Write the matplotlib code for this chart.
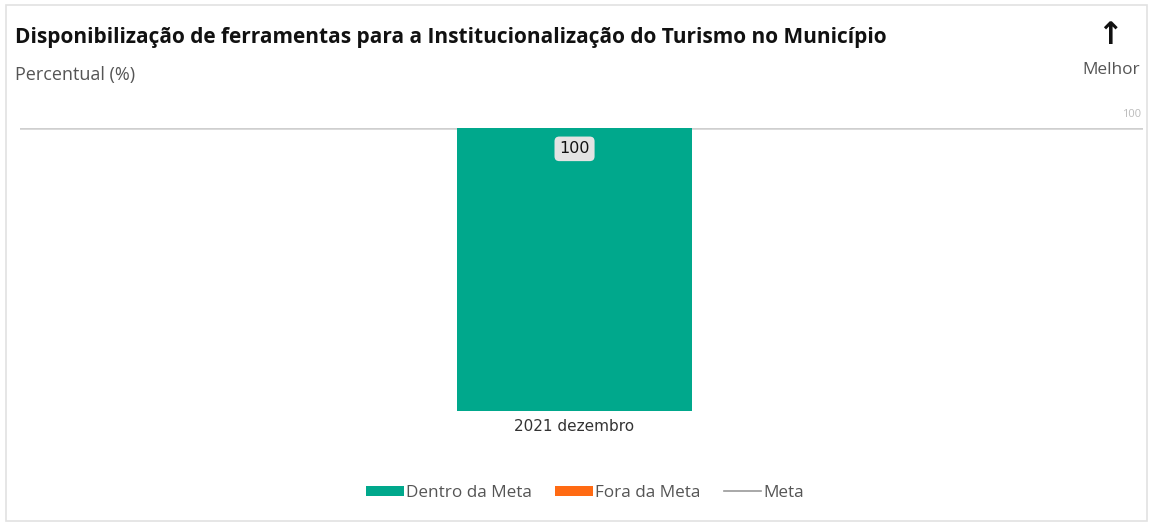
import matplotlib
matplotlib.use("Agg")
import matplotlib.pyplot as plt
from matplotlib.patches import Rectangle, Patch
from matplotlib.lines import Line2D

# Data
categories = ["2021 dezembro"]
dentro_meta = [100]
fora_meta = [0]
meta = 100

title = "Disponibilização de ferramentas para a Institucionalização do Turismo no Município"
subtitle = "Percentual (%)"

GREEN = "#00A88C"
ORANGE = "#FF6A13"
GRAY_LINE = "#CFCFCF"

W, H = 1153, 525
fig = plt.figure(figsize=(W / 100, H / 100), dpi=100)
fig.patch.set_facecolor("white")

# card border
fig.patches.append(Rectangle((6 / W, 4 / H), (W - 12) / W, (H - 9) / H,
                             transform=fig.transFigure, fill=False,
                             edgecolor="#E2E2E2", linewidth=1.2))

# plot area
x0, x1 = 20, 1143
ytop, ybot = 128, 411
ax = fig.add_axes([x0 / W, 1 - ybot / H, (x1 - x0) / W, (ybot - ytop) / H])

xpos = list(range(len(categories)))
ax.bar(xpos, dentro_meta, width=0.209, color=GREEN, zorder=2)
ax.bar(xpos, fora_meta, bottom=dentro_meta, width=0.209, color=ORANGE, zorder=2)
ax.axhline(meta, color=GRAY_LINE, linewidth=1.8, zorder=1)

ax.set_xlim(-0.4938, 0.5062)
ax.set_ylim(0, 100)
for s in ax.spines.values():
    s.set_visible(False)
ax.set_yticks([])
ax.set_xticks(xpos)
ax.set_xticklabels(categories, fontsize=11, color="#333333", family="DejaVu Sans")
ax.tick_params(axis="x", length=0, pad=6)

# value labels
for x, v in zip(xpos, dentro_meta):
    ax.annotate(f"{v}", xy=(x, v), xytext=(0, -15), textcoords="offset points",
                ha="center", va="center", fontsize=11.5, color="#111111",
                family="DejaVu Sans",
                bbox=dict(boxstyle="round,pad=0.3,rounding_size=0.3",
                          facecolor="#E3E3E3", edgecolor="none"))

# axis max label
ax.text(0.9985, 103, "100", transform=ax.get_yaxis_transform(), ha="right",
        va="bottom", fontsize=8, color="#BBBBBB", family="Open Sans")

# titles
fig.text(15 / W, 1 - 38 / H, title, ha="left", va="center", fontsize=15,
         fontweight="bold", color="#111111", family="Open Sans")
fig.text(15 / W, 1 - 75 / H, subtitle, ha="left", va="center", fontsize=13,
         color="#555555", family="Open Sans")
fig.text(1110 / W, 1 - 36 / H, "↑", ha="center", va="center", fontsize=22,
         fontweight="bold", color="#111111", family="DejaVu Sans")
fig.text(1111 / W, 1 - 70 / H, "Melhor", ha="center", va="center", fontsize=12.4,
         color="#555555", family="Open Sans")

# legend
handles = [Patch(facecolor=GREEN, edgecolor="none", label="Dentro da Meta"),
           Patch(facecolor=ORANGE, edgecolor="none", label="Fora da Meta"),
           Line2D([], [], color="#999999", linewidth=1.2, label="Meta")]
leg = fig.legend(handles=handles, loc="center", bbox_to_anchor=(585 / W, 1 - 493 / H),
                 ncol=3, frameon=False, prop={"family": "Open Sans", "size": 12.3},
                 handlelength=2.2, handleheight=0.55, handletextpad=0.1,
                 columnspacing=1.4)
for t in leg.get_texts():
    t.set_color("#555555")

fig.savefig("out.png", dpi=100, facecolor="white")
